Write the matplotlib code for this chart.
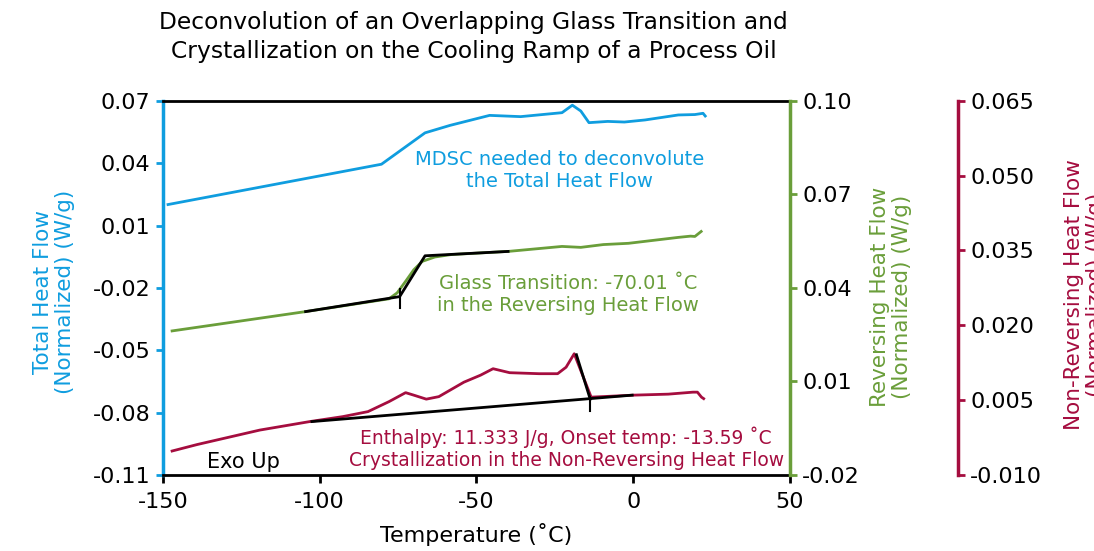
import matplotlib
matplotlib.use('Agg')
import matplotlib.pyplot as plt
import numpy as np

plt.rcParams['font.family'] = ['DejaVu Sans']

blue = '#0f9ddf'
green = '#6a9e3a'
crimson = '#a50d3f'

# total heat flow (left axis)
total_t = [-148.4, -80.3, -66.4, -58.4, -45.8, -35.9, -22.7, -19.4, -16.7, -14.1, -8.1, -2.8, 3.8, 14.4, 19.7, 22.3, 23.0]
total_hf = [0.0201, 0.0395, 0.0546, 0.0582, 0.0630, 0.0624, 0.0643, 0.0679, 0.0651, 0.0595, 0.0601, 0.0598, 0.0608, 0.0632, 0.0634, 0.0640, 0.0627]

# reversing heat flow (green axis)
rev_t = [-147.1, -104.5, -77.9, -75.3, -72.6, -70.0, -67.3, -63.3, -58.0, -39.9, -22.7, -16.7, -9.5, -1.5, 14.4, 18.3, 19.7, 21.7]
rev_hf = [0.0262, 0.0324, 0.0365, 0.0384, 0.0421, 0.0458, 0.0485, 0.0499, 0.0507, 0.0517, 0.0533, 0.0530, 0.0539, 0.0543, 0.0562, 0.0566, 0.0565, 0.0581]

# non-reversing heat flow (crimson axis)
nrev_t = [-147.1, -139.1, -119.1, -103.2, -92.6, -84.6, -77.9, -72.6, -70.0, -66.0, -62.0, -54.0, -48.7, -44.7, -39.4, -30.0, -24.1, -21.4, -18.8, -13.4, 0.1, 11.2, 19.1, 20.5, 21.8, 22.5]
nrev_hf = [-0.0052, -0.0039, -0.0010, 0.0007, 0.0017, 0.0027, 0.0047, 0.0065, 0.0060, 0.0052, 0.0057, 0.0086, 0.0100, 0.0113, 0.0105, 0.0103, 0.0103, 0.0116, 0.0143, 0.0056, 0.0060, 0.0062, 0.0066, 0.0066, 0.0056, 0.0053]

# analysis construction lines
tg_line_t = [-104.5, -74.5, -66.4, -39.9]
tg_line_hf = [0.0324, 0.0372, 0.0503, 0.0517]
tg_tick_t = [-74.5, -74.5]
tg_tick_hf = [0.0395, 0.0334]

cryst_base_t = [-102.5, -0.3]
cryst_base_hf = [0.0007, 0.0060]
cryst_drop_t = [-18.1, -13.7]
cryst_drop_hf = [0.0141, 0.0052]
cryst_tick_t = [-13.7, -13.7]
cryst_tick_hf = [0.0057, 0.0029]

x_ticks = [-150, -100, -50, 0, 50]
left_ticks = [-0.11, -0.08, -0.05, -0.02, 0.01, 0.04, 0.07]
green_ticks = [-0.02, 0.01, 0.04, 0.07, 0.10]
crimson_ticks = [-0.010, 0.005, 0.020, 0.035, 0.050, 0.065]

fig = plt.figure(figsize=(10.94, 5.51), dpi=100)
ax = fig.add_axes([0.149, 0.138, 0.573, 0.679])
ax2 = ax.twinx()
ax3 = ax.twinx()

ax.plot(total_t, total_hf, color=blue, lw=2)
ax2.plot(rev_t, rev_hf, color=green, lw=2)
ax2.plot(tg_line_t, tg_line_hf, color='black', lw=2)
ax2.plot(tg_tick_t, tg_tick_hf, color='black', lw=1.5)
ax3.plot(nrev_t, nrev_hf, color=crimson, lw=2)
ax3.plot(cryst_base_t, cryst_base_hf, color='black', lw=2)
ax3.plot(cryst_drop_t, cryst_drop_hf, color='black', lw=2)
ax3.plot(cryst_tick_t, cryst_tick_hf, color='black', lw=1.5)

ax.set_xlim(-150, 50)
ax.set_ylim(-0.11, 0.07)
ax2.set_ylim(-0.02, 0.10)
ax3.set_ylim(-0.010, 0.065)

ax.set_xticks(x_ticks)
ax.set_xticklabels([str(v) for v in x_ticks])
ax.set_yticks(left_ticks)
ax.set_yticklabels(['%.2f' % v for v in left_ticks])
ax2.set_yticks(green_ticks)
ax2.set_yticklabels(['%.2f' % v for v in green_ticks])
ax3.set_yticks(crimson_ticks)
ax3.set_yticklabels(['%.3f' % v for v in crimson_ticks])

for a in (ax, ax2, ax3):
    for s in a.spines.values():
        s.set_visible(False)

ax.spines['top'].set_visible(True)
ax.spines['top'].set_color('black')
ax.spines['top'].set_linewidth(2)
ax.spines['bottom'].set_visible(True)
ax.spines['bottom'].set_color('black')
ax.spines['bottom'].set_linewidth(2)
ax.spines['left'].set_visible(True)
ax.spines['left'].set_color(blue)
ax.spines['left'].set_linewidth(2.5)
ax2.spines['right'].set_visible(True)
ax2.spines['right'].set_color(green)
ax2.spines['right'].set_linewidth(2.5)
ax3.spines['right'].set_visible(True)
ax3.spines['right'].set_position(('axes', 1.268))
ax3.spines['right'].set_color(crimson)
ax3.spines['right'].set_linewidth(2.5)

ax.tick_params(axis='x', direction='out', length=6, width=2, color='black', labelsize=16, pad=6)
ax.tick_params(axis='y', direction='out', length=5, width=2, color=blue, labelsize=16, pad=4)
ax2.tick_params(axis='y', direction='out', length=5, width=2, color=green, labelsize=16, pad=4)
ax3.tick_params(axis='y', direction='out', length=5, width=2, color=crimson, labelsize=16, pad=4)

ax.set_xlabel('Temperature (˚C)', fontsize=16, labelpad=8)
fig.text(54 / 1094, 1 - 292 / 551, 'Total Heat Flow\n(Normalized) (W/g)', fontsize=15.5, color=blue,
         rotation=90, ha='center', va='center', linespacing=1.15)
fig.text(891 / 1094, 1 - 297 / 551, 'Reversing Heat Flow\n(Normalized) (W/g)', fontsize=15.5, color=green,
         rotation=90, ha='center', va='center', linespacing=1.15)
fig.text(1085 / 1094, 1 - 295 / 551, 'Non-Reversing Heat Flow\n(Normalized) (W/g)', fontsize=15.5, color=crimson,
         rotation=90, ha='center', va='center', linespacing=1.15)

ax.text(-23.4, 0.0363, 'MDSC needed to deconvolute\nthe Total Heat Flow', color=blue,
        fontsize=14, ha='center', va='center', linespacing=1.2)
ax.text(-20.8, -0.0231, 'Glass Transition: -70.01 ˚C\nin the Reversing Heat Flow', color=green,
        fontsize=14, ha='center', va='center', linespacing=1.2)
ax.text(-21.4, -0.097, 'Enthalpy: 11.333 J/g, Onset temp: -13.59 ˚C\nCrystallization in the Non-Reversing Heat Flow',
        color=crimson, fontsize=13.5, ha='center', va='center', linespacing=1.2)
ax.text(-124.2, -0.1037, 'Exo Up', color='black', fontsize=15, ha='center', va='center')

fig.text(0.433, 0.933, 'Deconvolution of an Overlapping Glass Transition and\nCrystallization on the Cooling Ramp of a Process Oil',
         ha='center', va='center', fontsize=16.8, linespacing=1.3)

fig.savefig('out.png', dpi=100)
